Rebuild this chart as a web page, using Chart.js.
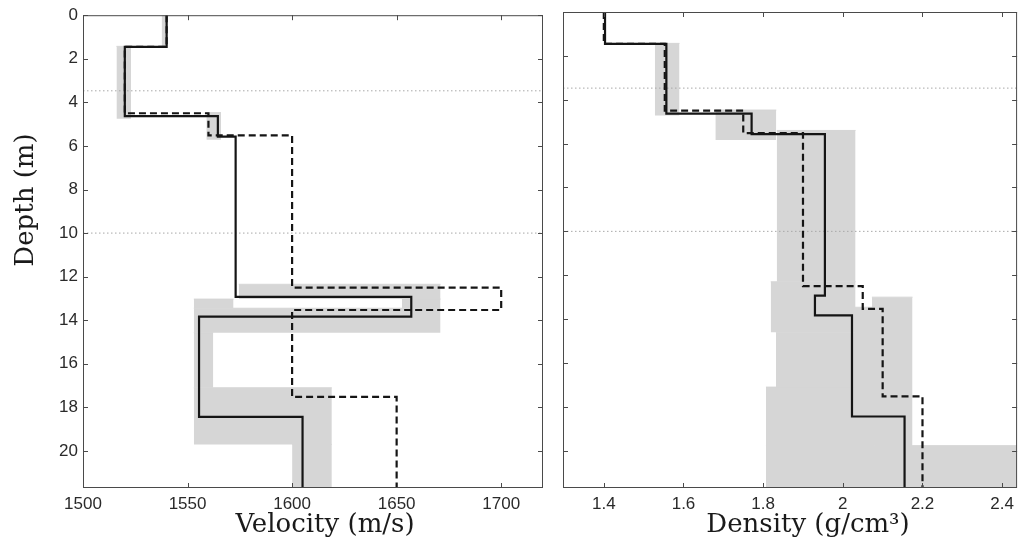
<!DOCTYPE html>
<html>
<head>
<meta charset="utf-8">
<script src="https://cdn.jsdelivr.net/npm/chart.js@4.4.1/dist/chart.umd.min.js"></script>
<style>
  html, body { margin: 0; padding: 0; background: #fff; }
  body { width: 1020px; height: 545px; position: relative; overflow: hidden; }
  canvas { position: absolute; top: 0; }
  #vel { left: 0; }
  #den { left: 548px; }
</style>
</head>
<body>
<canvas id="vel" width="548" height="545"></canvas>
<canvas id="den" width="472" height="545"></canvas>
<script>
// ---- axes ----
const DEPTH_MAX = 21.7;
const depthTicks = [0, 2, 4, 6, 8, 10, 12, 14, 16, 18, 20];
const velocityRange = [1500, 1720];
const velocityTicks = [1500, 1550, 1600, 1650, 1700];
const densityRange = [1.2975, 2.4375];
const densityTicks = [1.4, 1.6, 1.8, 2.0, 2.2, 2.4];
const referenceDepths = [3.47, 10];

// ---- inverted model (solid): layer tops and layer values ----
const invertedTops = [0, 1.45, 4.63, 5.57, 12.93, 13.83, 18.44];
const invertedVelocity = [1540, 1520, 1564.5, 1573, 1657, 1555.5, 1605];
const invertedDensity = [1.403, 1.557, 1.771, 1.955, 1.93, 2.023, 2.155];

// ---- true model (dashed) ----
const trueTops = [0, 1.45, 4.5, 5.52, 12.5, 13.53, 17.52];
const trueVelocity = [1540, 1520, 1560, 1600, 1700, 1600, 1650];
const trueDensity = [1.40, 1.553, 1.75, 1.90, 2.05, 2.10, 2.20];

// ---- spread of accepted models (grey blocks): top, bottom, min, max ----
const velSpreadTop    = [0,      1.43, 4.47, 12.35, 13.03, 13.03,  13.45, 14.57,  17.1, 19.7];
const velSpreadBottom = [1.43,   4.75, 5.72, 13.03, 13.45, 13.45,  14.57, 17.1,   19.7, DEPTH_MAX];
const velSpreadMin    = [1537.6, 1516, 1559, 1574.5, 1553, 1652.5, 1553,  1553,   1553, 1600];
const velSpreadMax    = [1540.5, 1523, 1566, 1671,  1572,  1671,   1671,  1562.3, 1619, 1619];

const denSpreadTop    = [1.43,  4.47,  5.4,   12.3,  13.0,  13.46, 14.6,  17.1,  19.77];
const denSpreadBottom = [4.72,  5.84,  12.3,  14.6,  19.77, 19.77, 17.1,  19.77, DEPTH_MAX];
const denSpreadMin    = [1.528, 1.68,  1.834, 1.819, 2.073, 2.03,  1.832, 1.807, 1.807];
const denSpreadMax    = [1.59,  1.833, 2.032, 2.032, 2.175, 2.08,  2.04,  2.04,  2.45];

const GREY = '#d6d6d6';
const INK = '#151515';

function stepPoints(tops, values, bottom) {
  const pts = [];
  values.forEach((v, i) => {
    const b = i + 1 < tops.length ? tops[i + 1] : bottom;
    pts.push({ x: v, y: tops[i] }, { x: v, y: b });
  });
  return pts;
}

// each block: its top edge filled down to its bottom depth;
// the top edge is stroked in the same grey so stacked blocks join without a seam
function spreadDatasets(tops, bottoms, mins, maxs) {
  return tops.map((t, i) => ({
    data: [{ x: mins[i], y: t }, { x: maxs[i], y: t }],
    fill: { value: bottoms[i] },
    backgroundColor: GREY,
    borderColor: GREY,
    borderWidth: 1,
    pointRadius: 0,
    order: 3
  }));
}

function referenceDatasets(xMin, xMax) {
  return referenceDepths.map(d => ({
    data: [{ x: xMin, y: d }, { x: xMax, y: d }],
    borderColor: '#a8a8a8',
    borderWidth: 1,
    borderDash: [1.5, 2.5],
    pointRadius: 0,
    fill: false,
    order: 2
  }));
}

function profileDatasets(invValues, trueValues) {
  return [
    {
      data: stepPoints(invertedTops, invValues, DEPTH_MAX),
      borderColor: INK, borderWidth: 2.2, pointRadius: 0, fill: false, order: 1
    },
    {
      data: stepPoints(trueTops, trueValues, DEPTH_MAX),
      borderColor: INK, borderWidth: 2.2, borderDash: [7, 4], pointRadius: 0, fill: false, order: 0
    }
  ];
}

// box frame with inward ticks on all four sides
const framePlugin = {
  id: 'frame',
  afterDatasetsDraw(chart) {
    const { ctx, chartArea: a, scales: { x, y } } = chart;
    ctx.save();
    ctx.strokeStyle = '#4a4a4a';
    ctx.lineWidth = 1;
    ctx.strokeRect(a.left + 0.5, a.top + 0.5, a.right - a.left - 1, a.bottom - a.top - 1);
    ctx.beginPath();
    x.ticks.forEach(t => {
      const px = Math.round(x.getPixelForValue(t.value)) + 0.5;
      ctx.moveTo(px, a.bottom); ctx.lineTo(px, a.bottom - 5);
      ctx.moveTo(px, a.top); ctx.lineTo(px, a.top + 5);
    });
    y.ticks.forEach(t => {
      const py = Math.round(y.getPixelForValue(t.value)) + 0.5;
      ctx.moveTo(a.left, py); ctx.lineTo(a.left + 5, py);
      ctx.moveTo(a.right, py); ctx.lineTo(a.right - 5, py);
    });
    ctx.stroke();
    ctx.restore();
  }
};

function titlePlugin(draw) {
  return {
    id: 'axisTitles',
    afterDraw(chart) {
      const ctx = chart.ctx;
      ctx.save();
      ctx.fillStyle = '#1a1a1a';
      ctx.font = '26px "DejaVu Serif"';
      draw(ctx, chart);
      ctx.restore();
    }
  };
}

function makeOptions(range, xTicks, yLabels, yWidth, padRight) {
  const tickFont = { family: '"Liberation Sans", Arial, sans-serif', size: 17 };
  return {
    responsive: false,
    devicePixelRatio: 1,
    animation: false,
    events: [],
    layout: { padding: { top: 12, right: padRight, left: 0, bottom: 0 } },
    plugins: { legend: { display: false }, tooltip: { enabled: false } },
    elements: { line: { tension: 0 } },
    scales: {
      x: {
        type: 'linear', min: range[0], max: range[1],
        grid: { display: false, drawTicks: false },
        border: { display: false },
        afterBuildTicks: s => { s.ticks = xTicks.map(v => ({ value: v })); },
        afterFit: s => { s.height = 57; },
        ticks: { autoSkip: false, maxRotation: 0, padding: 6, color: '#2a2a2a', font: tickFont,
                 callback: v => String(v) }
      },
      y: {
        type: 'linear', reverse: true, min: 0, max: DEPTH_MAX,
        grid: { display: false, drawTicks: false },
        border: { display: false },
        afterBuildTicks: s => { s.ticks = depthTicks.map(v => ({ value: v })); },
        afterFit: s => { s.width = yWidth; },
        ticks: { display: yLabels, autoSkip: false, padding: 5, color: '#2a2a2a', font: tickFont,
                 callback: v => String(v) }
      }
    }
  };
}

new Chart(document.getElementById('vel'), {
  type: 'line',
  data: {
    datasets: [
      ...profileDatasets(invertedVelocity, trueVelocity),
      ...referenceDatasets(velocityRange[0], velocityRange[1]),
      ...spreadDatasets(velSpreadTop, velSpreadBottom, velSpreadMin, velSpreadMax)
    ]
  },
  options: makeOptions(velocityRange, velocityTicks, true, 83, 5),
  plugins: [framePlugin, titlePlugin((ctx) => {
    ctx.textAlign = 'center';
    ctx.textBaseline = 'alphabetic';
    ctx.fillText('Velocity (m/s)', 325, 532);
    ctx.translate(26, 200);
    ctx.rotate(-Math.PI / 2);
    ctx.textBaseline = 'middle';
    ctx.fillText('Depth (m)', 0, 0);
  })]
});

new Chart(document.getElementById('den'), {
  type: 'line',
  data: {
    datasets: [
      ...profileDatasets(invertedDensity, trueDensity),
      ...referenceDatasets(densityRange[0], densityRange[1]),
      ...spreadDatasets(denSpreadTop, denSpreadBottom, denSpreadMin, denSpreadMax)
    ]
  },
  options: makeOptions(densityRange, densityTicks, false, 15, 1),
  plugins: [framePlugin, titlePlugin((ctx) => {
    ctx.textAlign = 'center';
    ctx.textBaseline = 'alphabetic';
    ctx.fillText('Density (g/cm³)', 260, 532);
  })]
});
</script>
</body>
</html>
